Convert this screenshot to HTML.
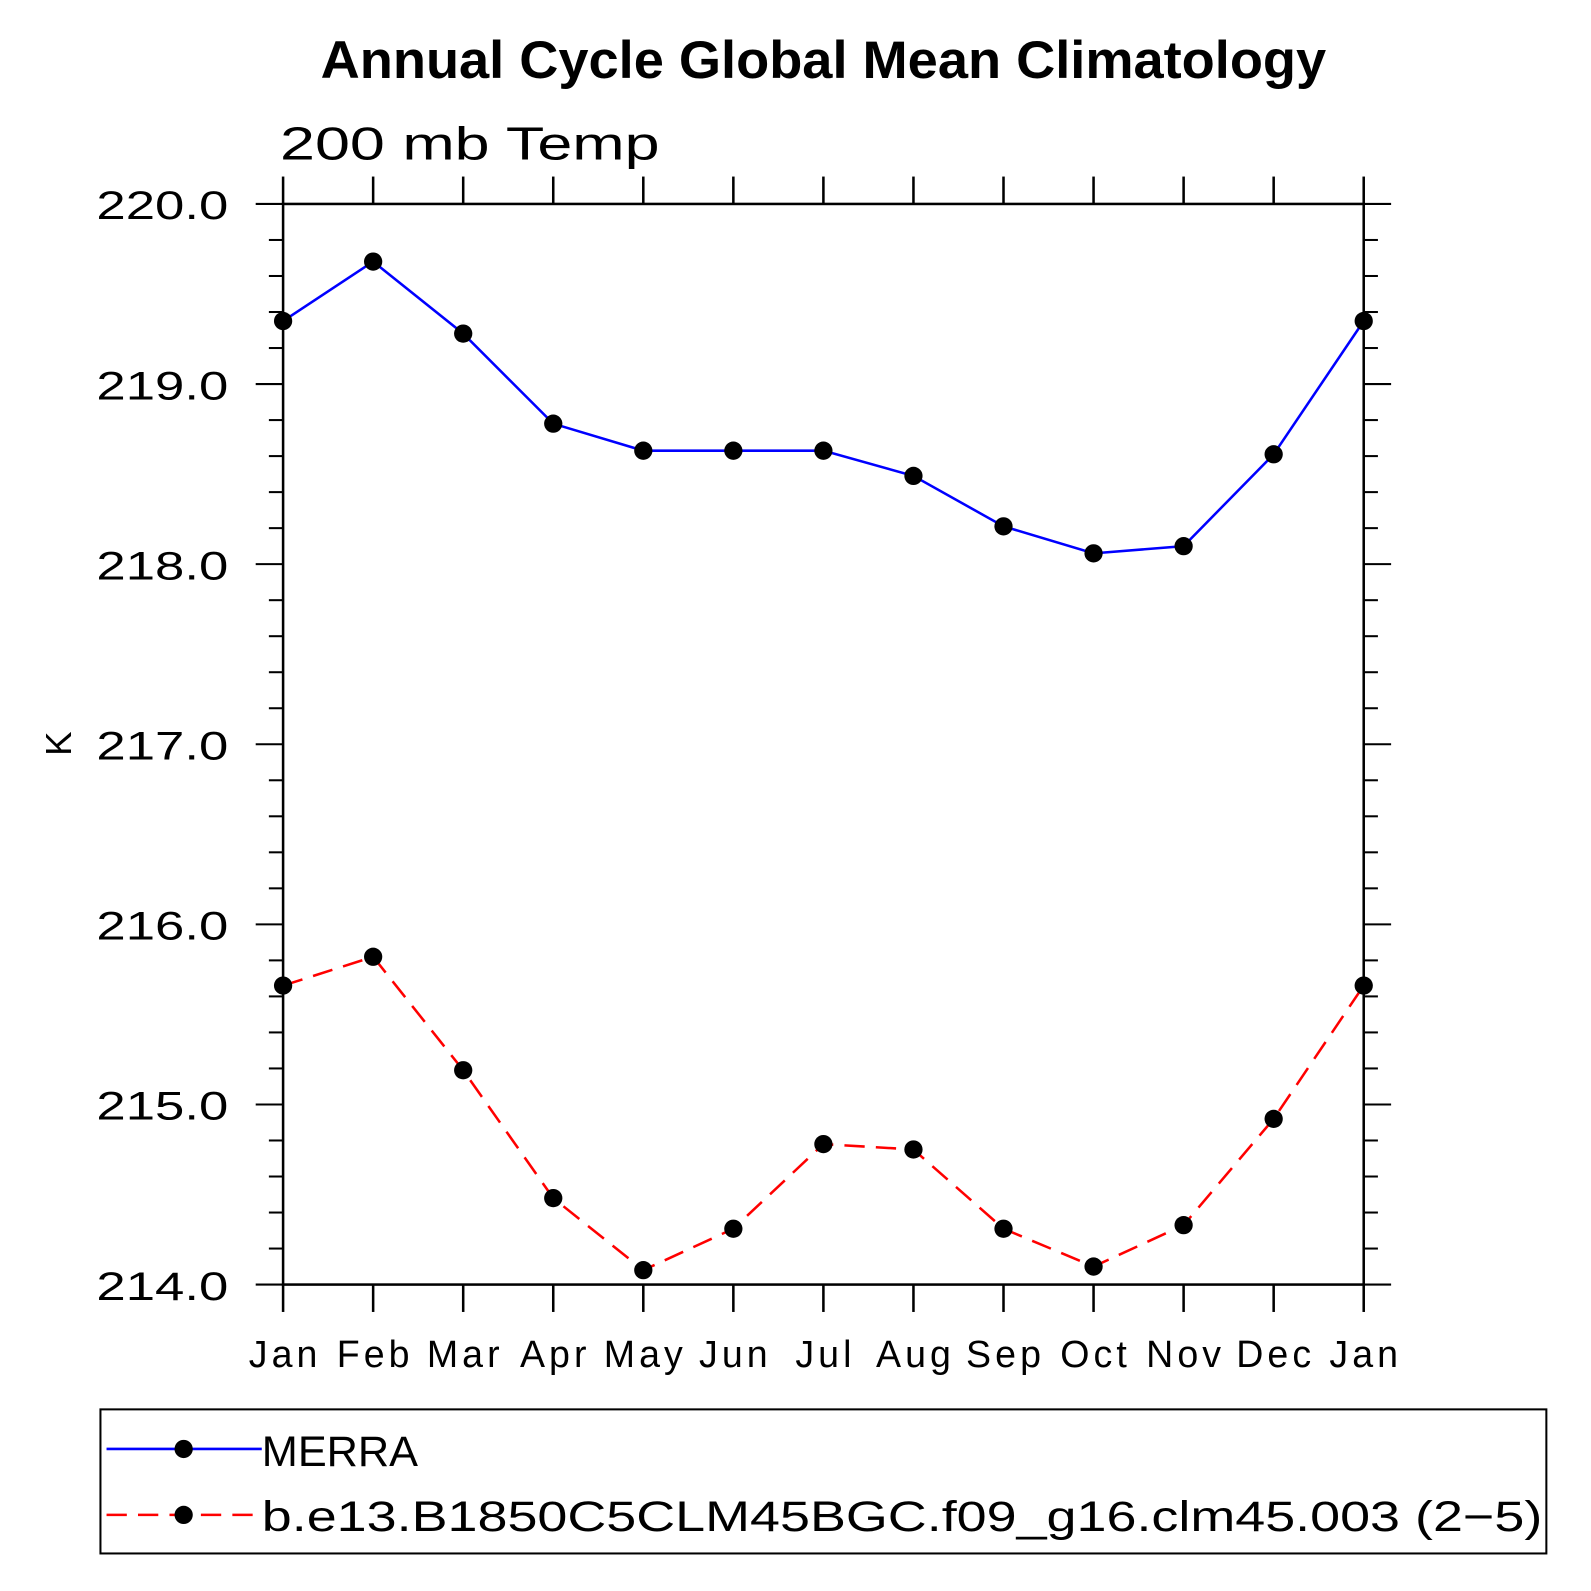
<!DOCTYPE html>
<html><head><meta charset="utf-8"><style>
html,body{margin:0;padding:0;background:#fff;}
svg{display:block;font-family:"Liberation Sans",sans-serif;}
</style></head><body>
<svg id="chart" width="1591" height="1591" viewBox="0 0 1568 1568" xmlns="http://www.w3.org/2000/svg">
<text x="316" y="77" font-size="52" font-weight="bold" textLength="991" lengthAdjust="spacingAndGlyphs">Annual Cycle Global Mean Climatology</text>
<text x="276" y="157" font-size="46" textLength="374" lengthAdjust="spacingAndGlyphs">200 mb Temp</text>
<text transform="translate(70,733) rotate(-90)" text-anchor="middle" font-size="36">K</text>
<g id="axes"></g>
<g id="series"></g>
<rect x="99" y="1389" width="1425" height="142" fill="none" stroke="#000" stroke-width="2"/>
<g>
<line x1="105" y1="1428" x2="258" y2="1428" stroke="#00f" stroke-width="2.5"/>
<circle cx="181" cy="1428" r="9"/>
<text x="258" y="1445" font-size="42" textLength="154" lengthAdjust="spacingAndGlyphs">MERRA</text>
</g>
<g>
<line x1="105" y1="1493" x2="258" y2="1493" stroke="#f00" stroke-width="2.5" stroke-dasharray="20,11"/>
<circle cx="181" cy="1493" r="9"/>
<text x="258" y="1509" font-size="42" textLength="1262" lengthAdjust="spacingAndGlyphs">b.e13.B1850C5CLM45BGC.f09_g16.clm45.003 (2−5)</text>
</g>
</svg>
<script>
const months = ["Jan","Feb","Mar","Apr","May","Jun","Jul","Aug","Sep","Oct","Nov","Dec","Jan"];
const merra = [219.35,219.68,219.28,218.78,218.63,218.63,218.63,218.49,218.21,218.06,218.10,218.61,219.35];
const model = [215.66,215.82,215.19,214.48,214.08,214.31,214.78,214.75,214.31,214.10,214.33,214.92,215.66];
const yTicks = [214,215,216,217,218,219,220];
const yTickLabels = ["214.0","215.0","216.0","217.0","218.0","219.0","220.0"];

const NS="http://www.w3.org/2000/svg";
const X0=279,X1=1344,Y0=201,Y1=1266,YMIN=214,YMAX=220;
const xs=i=>X0+(X1-X0)*i/(months.length-1);
const ys=v=>Y1-(v-YMIN)/(YMAX-YMIN)*(Y1-Y0);
function mk(tag,attrs,parent){const e=document.createElementNS(NS,tag);for(const k in attrs)e.setAttribute(k,attrs[k]);parent.appendChild(e);return e;}
const ax=document.getElementById('axes');
const f=mk('rect',{x:X0,y:Y0,width:X1-X0,height:Y1-Y0,fill:'none',stroke:'#000','stroke-width':2.5},ax);


months.forEach((m,i)=>{
  const x=xs(i);
  const t1=mk('line',{x1:x,y1:Y1,x2:x,y2:Y1+27,stroke:'#000','stroke-width':2.5},ax);
  
  
  const t2=mk('line',{x1:x,y1:Y0,x2:x,y2:Y0-27,stroke:'#000','stroke-width':2.5},ax);
  
  
  const tx=mk('text',{x:x+2,y:1347,'text-anchor':'middle','font-size':37,'letter-spacing':4},ax);
  tx.textContent=m;
  
  
});
for(let v=YMIN;v<=YMAX+1e-6;v+=0.2){
  const y=ys(v);const major=Math.abs(v-Math.round(v))<1e-6;const L=major?27:14;
  const a=mk('line',{x1:X0-L,y1:y,x2:X0,y2:y,stroke:'#000','stroke-width':2},ax);
  
  
  const b=mk('line',{x1:X1,y1:y,x2:X1+L,y2:y,stroke:'#000','stroke-width':2},ax);
  
  
}
yTicks.forEach((v,i)=>{
  const t=mk('text',{x:95,y:ys(v)+15,'font-size':39,textLength:130,lengthAdjust:'spacingAndGlyphs'},ax);
  t.textContent=yTickLabels[i];
  
  
});
const sg=document.getElementById('series');
function drawSeries(vals,color,dash,name){
  const p=mk('polyline',{points:vals.map((v,i)=>xs(i)+','+ys(v)).join(' '),fill:'none',stroke:color,'stroke-width':2.5,'stroke-dasharray':dash},sg);
  
  
  vals.forEach((v,i)=>{
    const c=mk('circle',{cx:xs(i),cy:ys(v),r:9,fill:'#000'},sg);
    
    
  });
}
drawSeries(merra,'#00f','none','merra');
drawSeries(model,'#f00','20,11','model');
</script>
</body></html>
